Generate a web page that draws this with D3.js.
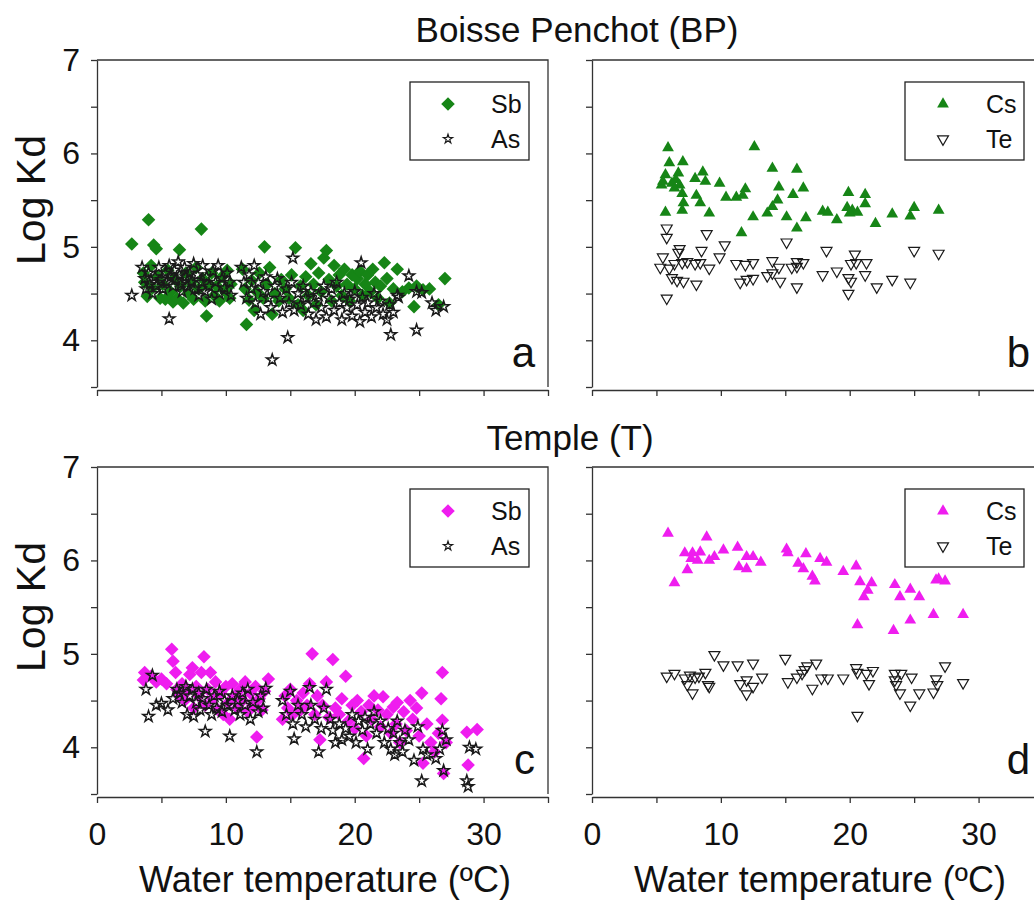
<!DOCTYPE html>
<html>
<head>
<meta charset="utf-8">
<script src="https://cdn.jsdelivr.net/npm/d3@7"></script>
<style>
  body { margin: 0; background: #fff; }
  svg { display: block; font-family: "Liberation Sans", Arial, sans-serif; }
</style>
</head>
<body>
<svg id="chart" width="1034" height="900"></svg>
<script>
// [water temperature (ºC), log Kd]
const bpSb = [
  [2.7,5.03],[3.6,4.72],[3.7,4.62],[3.9,4.47],[4.0,5.29],[4.2,4.80],[4.3,4.56],[4.4,5.02],[4.6,4.98],[4.7,4.68],
  [4.9,4.45],[5.1,4.60],[5.3,4.44],[5.5,4.75],[5.7,4.52],[5.9,4.41],[6.0,4.66],[6.2,4.45],[6.4,4.97],[6.5,4.58],
  [6.7,4.40],[6.9,4.72],[7.1,4.50],[7.3,4.62],[7.5,4.44],[7.7,4.78],[7.9,4.55],[8.1,5.19],[8.2,4.66],[8.4,4.42],
  [8.5,4.26],[8.7,4.60],[8.9,4.72],[9.1,4.48],[9.3,4.58],[9.5,4.42],[9.7,4.68],[9.9,4.53],[10.1,4.75],[10.3,4.45],
  [10.4,4.60],[11.3,4.76],[11.5,4.55],[11.6,4.17],[11.8,4.43],[12.0,4.64],[12.2,4.32],[12.4,4.52],[12.6,4.72],[12.9,4.45],
  [13.0,5.00],[13.2,4.60],[13.4,4.78],[13.6,4.28],[13.8,4.50],[14.1,4.42],[14.3,4.65],[14.6,4.55],[14.9,4.45],[15.1,4.70],
  [15.4,4.99],[15.6,4.38],[15.8,4.58],[16.0,4.32],[16.2,4.68],[16.4,4.48],[16.6,4.82],[16.8,4.60],[17.0,4.38],[17.2,4.72],
  [17.4,4.52],[17.6,4.88],[17.8,4.96],[18.0,4.65],[18.2,4.42],[18.4,4.80],[18.6,4.58],[18.8,4.70],[19.0,4.48],[19.2,4.76],
  [19.4,4.60],[19.6,4.42],[19.8,4.70],[20.0,4.55],[20.2,4.66],[20.4,4.74],[20.6,4.48],[20.8,4.60],[21.0,4.70],[21.2,4.52],
  [21.4,4.76],[21.6,4.62],[21.8,4.45],[22.0,4.58],[22.3,4.83],[22.5,4.66],[22.7,4.40],[23.0,4.55],[23.3,4.76],[23.7,4.52],
  [24.2,4.56],[24.6,4.36],[24.8,4.58],[25.3,4.54],[25.8,4.55],[26.5,4.38],[27.0,4.66]
];
const bpAs = [
  [2.7,4.48],[5.6,4.23],[13.6,3.79],[14.8,4.03],[15.2,4.88],[20.5,4.83],[24.2,4.69],[24.8,4.11],[22.8,4.06],[26.0,4.40],
  [26.9,4.36],[23.4,4.46],[25.2,4.51],
  [3.5,4.78],[3.7,4.66],[3.8,4.55],[4.0,4.72],[4.1,4.60],[4.3,4.50],[4.5,4.68],[4.6,4.58],[4.8,4.78],[5.0,4.65],
  [5.1,4.55],[5.3,4.72],[5.4,4.62],[5.6,4.80],[5.7,4.68],[5.9,4.58],[6.0,4.75],[6.1,4.65],[6.3,4.84],[6.4,4.70],
  [6.5,4.60],[6.6,4.52],[6.8,4.78],[6.9,4.68],[7.0,4.58],[7.2,4.72],[7.3,4.62],[7.5,4.82],[7.6,4.55],[7.8,4.70],
  [7.9,4.48],[8.1,4.62],[8.2,4.80],[8.4,4.52],[8.5,4.68],[8.7,4.58],[8.9,4.44],[9.0,4.74],[9.2,4.62],[9.4,4.80],
  [9.5,4.50],[9.7,4.66],[9.9,4.56],[10.1,4.72],[10.3,4.62],[10.4,4.48],
  [11.2,4.78],[11.4,4.62],[11.6,4.45],[11.8,4.70],[12.0,4.55],[12.2,4.80],[12.3,4.40],[12.5,4.62],[12.7,4.28],[12.9,4.52],
  [13.1,4.68],[13.3,4.45],[13.5,4.35],[13.8,4.58],[14.0,4.66],[14.2,4.45],[14.4,4.30],[14.7,4.55],[14.9,4.40],[15.1,4.62],
  [15.3,4.32],[15.6,4.50],[15.8,4.38],[16.0,4.58],[16.2,4.45],[16.4,4.28],[16.6,4.52],[16.8,4.40],[17.0,4.22],[17.2,4.48],
  [17.4,4.35],[17.6,4.58],[17.8,4.25],[18.0,4.45],[18.2,4.55],[18.4,4.32],[18.6,4.62],[18.8,4.40],[19.0,4.22],[19.2,4.50],
  [19.4,4.35],[19.6,4.44],[19.8,4.26],[20.0,4.52],[20.2,4.38],[20.4,4.20],[20.6,4.46],[20.8,4.30],[21.0,4.40],[21.3,4.25],
  [21.5,4.50],[21.7,4.35],[22.0,4.42],[22.2,4.28],[22.5,4.22],[22.7,4.38],[23.0,4.30],[23.3,4.48],[24.8,4.52],[26.3,4.32]
];
const bpCs = [
  [5.9,6.06],[12.6,6.07],[6.0,5.90],[7.05,5.91],[5.7,5.77],[6.7,5.79],[5.4,5.66],[6.2,5.68],[6.8,5.66],[6.4,5.63],
  [7.0,5.57],[8.0,5.73],[8.6,5.80],[8.8,5.70],[9.9,5.68],[8.1,5.55],[8.4,5.47],[5.7,5.37],[7.0,5.39],[7.1,5.47],
  [9.1,5.36],[10.4,5.53],[11.2,5.53],[11.9,5.62],[11.7,5.55],[14.0,5.84],[15.9,5.83],[14.5,5.64],[16.4,5.63],[15.6,5.56],
  [14.4,5.50],[14.0,5.43],[13.6,5.36],[12.5,5.32],[11.6,5.15],[15.1,5.32],[16.6,5.31],[15.9,5.20],[17.9,5.38],[18.3,5.37],
  [19.0,5.29],[19.9,5.58],[21.2,5.56],[19.8,5.42],[20.2,5.39],[20.6,5.37],[20.0,5.36],[21.2,5.46],[22.0,5.25],[23.3,5.35],
  [24.7,5.33],[25.0,5.42],[26.9,5.39],[5.5,5.70],[6.5,5.72]
];
const bpTe = [
  [5.8,5.20],[5.8,5.10],[8.9,5.14],[10.3,5.02],[15.1,5.05],[6.8,4.98],[6.7,4.94],[8.5,4.96],[5.5,4.89],[9.9,4.89],
  [18.2,4.96],[25.0,4.96],[26.9,4.93],[20.4,4.92],[5.3,4.78],[6.0,4.77],[6.4,4.82],[7.0,4.83],[7.4,4.84],[8.0,4.82],
  [8.4,4.83],[9.1,4.77],[6.2,4.67],[6.6,4.64],[7.1,4.63],[8.1,4.60],[11.2,4.82],[11.9,4.81],[12.5,4.83],[11.5,4.62],
  [12.0,4.65],[12.5,4.66],[13.6,4.69],[14.0,4.72],[14.0,4.85],[14.6,4.63],[14.5,4.78],[15.5,4.78],[15.9,4.79],[16.4,4.83],
  [15.9,4.84],[15.9,4.57],[17.9,4.70],[19.0,4.74],[20.1,4.82],[20.5,4.83],[21.3,4.83],[19.9,4.67],[20.1,4.63],[19.9,4.50],
  [21.2,4.70],[22.1,4.57],[23.3,4.65],[24.7,4.62],[5.8,4.45]
];
const tSb = [
  [3.6,4.72],[3.7,4.80],[4.2,4.76],[4.6,4.70],[5.0,4.73],[5.4,4.68],[5.8,5.05],[5.9,4.92],[6.1,4.80],[6.2,4.62],
  [6.4,4.55],[6.6,4.68],[6.8,4.50],[7.0,4.60],[7.2,4.78],[7.4,4.85],[7.5,4.42],[7.7,4.65],[7.9,4.55],[8.1,4.80],
  [8.3,4.97],[8.4,4.45],[8.6,4.62],[8.8,4.80],[9.0,4.52],[9.2,4.70],[9.4,4.40],[9.6,4.58],[9.8,4.35],[10.0,4.65],
  [10.2,4.48],[10.3,4.30],[10.5,4.68],[10.7,4.55],[10.9,4.42],[11.1,4.62],[11.3,4.50],[11.5,4.70],[11.7,4.38],[11.9,4.58],
  [12.1,4.45],[12.3,4.65],[12.4,4.11],[12.6,4.52],[12.8,4.40],[13.0,4.60],[13.3,4.73],
  [14.4,4.30],[14.6,4.55],[14.8,4.42],[15.0,4.62],[15.2,4.35],[15.5,4.50],[15.8,4.40],[16.0,4.58],[16.3,4.45],
  [16.5,4.68],[16.7,5.00],[16.9,4.35],[17.1,4.55],[17.3,4.08],[17.5,4.45],[17.8,4.70],[18.0,4.32],[18.3,4.94],[18.5,4.42],
  [18.8,4.35],[19.0,4.52],[19.3,4.76],[19.5,4.28],[19.8,4.45],[20.0,4.20],[20.2,4.50],[20.5,4.38],[20.7,3.88],[20.9,4.12],
  [21.1,4.45],[21.3,4.30],[21.5,4.55],[21.8,4.40],[22.0,4.22],[22.2,4.54],[22.5,4.35],[22.8,4.15],[23.0,4.43],[23.2,4.25],
  [23.3,4.48],[23.5,4.05],[23.8,4.38],[24.0,4.18],[24.3,4.50],[24.5,4.30],[24.8,4.42],[25.0,4.12],[25.2,4.58],[25.3,3.83],
  [25.6,4.25],[25.9,4.05],[26.2,3.95],[26.5,4.15],[26.7,4.52],[26.8,4.80],[26.8,4.29],[26.9,3.72],[27.1,4.05],[28.7,4.16],
  [28.8,3.81],[29.5,4.19]
];
const tAs = [
  [3.8,4.62],[4.0,4.33],[4.3,4.77],[4.6,4.45],[5.0,4.47],[5.5,4.40],[5.9,4.52],[6.2,4.62],[6.4,4.58],[6.6,4.48],
  [6.9,4.65],[7.0,4.35],[7.2,4.55],[7.4,4.62],[7.5,4.33],[7.7,4.48],[7.9,4.58],[8.0,4.40],[8.2,4.52],[8.4,4.17],
  [8.5,4.62],[8.7,4.45],[8.9,4.35],[9.1,4.55],[9.3,4.42],[9.5,4.60],[9.7,4.38],[9.9,4.50],[10.1,4.45],[10.3,4.12],
  [10.5,4.55],[10.7,4.40],[10.9,4.50],[11.1,4.35],[11.3,4.58],[11.5,4.45],[11.7,4.62],[11.9,4.30],[12.1,4.48],[12.4,3.95],
  [12.5,4.38],[12.7,4.55],[12.9,4.42],[13.1,4.63],
  [14.4,4.50],[14.7,4.35],[15.0,4.60],[15.2,4.25],[15.3,4.09],[15.6,4.45],[15.9,4.35],[16.2,4.22],[16.5,4.64],[16.6,4.45],
  [16.9,4.30],[17.2,3.95],[17.4,4.20],[17.6,4.42],[17.8,4.62],[18.1,4.30],[18.3,4.18],[18.5,4.05],[18.8,4.25],[19.0,4.08],
  [19.3,4.20],[19.6,4.12],[19.8,4.35],[20.1,4.05],[20.3,4.28],[20.6,4.18],[20.8,4.32],[21.0,3.98],[21.2,4.25],[21.5,4.38],
  [21.7,4.15],[22.0,4.28],[22.3,4.05],[22.6,4.20],[22.8,3.98],[23.0,4.15],[23.1,3.92],[23.3,4.28],[23.5,4.05],[23.7,3.95],
  [23.9,4.18],[24.2,4.08],[24.6,3.86],[24.9,4.22],[25.2,3.64],[25.3,3.98],[25.6,3.92],[26.3,3.88],[26.6,3.98],[26.8,4.18],
  [26.9,3.75],[27.1,4.08],[28.7,3.64],[28.8,3.58],[28.9,4.00],[29.4,3.98]
];
const tCs = [
  [5.9,6.29],[8.9,6.25],[7.2,6.08],[7.8,6.08],[8.4,6.09],[7.7,6.02],[8.2,6.00],[9.1,6.00],[9.5,6.04],[10.2,6.11],
  [7.4,5.90],[6.4,5.76],[11.3,6.14],[12.0,6.04],[12.5,6.04],[13.1,5.98],[11.4,5.93],[12.0,5.91],[15.1,6.12],[15.2,6.08],
  [16.6,6.07],[17.7,6.02],[18.2,5.98],[16.0,5.97],[16.4,5.91],[17.1,5.83],[17.3,5.78],[19.5,5.88],[20.5,5.94],[20.8,5.77],
  [21.7,5.76],[21.4,5.68],[21.1,5.61],[23.5,5.74],[23.9,5.61],[24.7,5.69],[25.4,5.61],[26.7,5.79],[27.4,5.78],[26.9,5.80],
  [20.6,5.31],[23.4,5.25],[24.7,5.36],[26.5,5.42],[28.8,5.42]
];
const tTe = [
  [9.5,4.99],[15.0,4.95],[10.2,4.88],[11.3,4.88],[12.5,4.90],[13.2,4.75],[17.4,4.90],[16.7,4.87],[16.5,4.83],[16.3,4.79],
  [15.9,4.75],[15.2,4.70],[17.1,4.63],[17.8,4.74],[18.3,4.74],[19.5,4.74],[20.5,4.85],[20.6,4.80],[21.3,4.79],[21.8,4.82],
  [21.5,4.68],[20.6,4.34],[23.5,4.79],[24.0,4.79],[24.8,4.75],[23.5,4.72],[23.6,4.67],[23.9,4.58],[25.4,4.58],[24.7,4.45],
  [26.7,4.73],[26.8,4.67],[26.5,4.59],[27.4,4.87],[5.8,4.76],[6.4,4.79],[7.2,4.74],[7.6,4.77],[8.0,4.75],[8.3,4.76],
  [8.8,4.80],[7.4,4.67],[7.8,4.58],[9.0,4.67],[9.1,4.65],[11.5,4.68],[12.0,4.72],[12.5,4.65],[12.0,4.57],[28.8,4.69]
];
const xTicks = [0, 5, 10, 15, 20, 25, 30, 35];
const yTicks = [3.5, 4, 4.5, 5, 5.5, 6, 6.5, 7];

const green = "#168516", magenta = "#ef1def", ink = "#1a1a1a";
const svg = d3.select("#chart");
const pw = 451, ph = 327;

const shapes = {
  diamond: { path: d3.symbol().type(d3.symbolSquare).size(92)(), rot: 45, fill: true },
  star:    { path: d3.symbol().type(d3.symbolStar).size(40)(), rot: 0, fill: false },
  up:      { path: d3.symbol().type(d3.symbolTriangle).size(60)(), rot: 0, fill: true },
  down:    { path: d3.symbol().type(d3.symbolTriangle).size(52)(), rot: 180, fill: false }
};

const panels = [
  { left: 97,  top: 60,  letter: "a", showX: false, series: [
      { name: "Sb", data: bpSb, shape: "diamond", color: green },
      { name: "As", data: bpAs, shape: "star", color: ink }] },
  { left: 592, top: 60,  letter: "b", showX: false, series: [
      { name: "Cs", data: bpCs, shape: "up", color: green },
      { name: "Te", data: bpTe, shape: "down", color: ink }] },
  { left: 97,  top: 467, letter: "c", showX: true, series: [
      { name: "Sb", data: tSb, shape: "diamond", color: magenta },
      { name: "As", data: tAs, shape: "star", color: ink }] },
  { left: 592, top: 467, letter: "d", showX: true, series: [
      { name: "Cs", data: tCs, shape: "up", color: magenta },
      { name: "Te", data: tTe, shape: "down", color: ink }] }
];

function mark(sel, shape, color, x, y) {
  const s = shapes[shape];
  sel.append("path")
    .attr("d", s.path)
    .attr("transform", "translate(" + x + "," + y + ") rotate(" + s.rot + ")")
    .attr("fill", s.fill ? color : "none")
    .attr("stroke", s.fill ? "none" : ink)
    .attr("stroke-width", shape === "star" ? 1.5 : 1.2);
}

panels.forEach(function(p) {
  const x = d3.scaleLinear().domain([0, 35]).range([p.left, p.left + pw]);
  const y = d3.scaleLinear().domain([3.5, 7]).range([p.top + ph, p.top]);
  const g = svg.append("g");

  // frame top and right
  g.append("path")
    .attr("d", "M" + p.left + "," + p.top + "H" + (p.left + pw) + "V" + (p.top + ph))
    .attr("fill", "none").attr("stroke", "#333").attr("stroke-width", 1.3);

  const yAxis = g.append("g")
    .attr("transform", "translate(" + p.left + ",0)")
    .call(d3.axisLeft(y).tickValues(yTicks).tickSize(6).tickSizeOuter(0).tickPadding(11)
      .tickFormat(function(d) { return (p.left < 300 && d % 1 === 0) ? d : ""; }));
  const xAxis = g.append("g")
    .attr("transform", "translate(0," + (p.top + ph + 3) + ")")
    .call(d3.axisBottom(x).tickValues(xTicks).tickSize(6).tickSizeOuter(0).tickPadding(19)
      .tickFormat(function(d) { return (p.showX && d % 10 === 0 && d < 35) ? d : ""; }));
  [yAxis, xAxis].forEach(function(a) {
    a.selectAll("path, line").attr("stroke", "#333").attr("stroke-width", 1.3);
    a.selectAll("text").attr("font-size", 32).attr("fill", "#111")
      .attr("font-family", "Liberation Sans, Arial, sans-serif");
  });

  p.series.forEach(function(s) {
    const layer = g.append("g");
    s.data.forEach(function(d) { mark(layer, s.shape, s.color, x(d[0]), y(d[1])); });
  });

  // legend
  const lx = p.left + 313, ly = p.top + 22;
  g.append("rect").attr("x", lx).attr("y", ly).attr("width", 119).attr("height", 78)
    .attr("fill", "#fff").attr("stroke", "#222").attr("stroke-width", 1.3);
  p.series.forEach(function(s, i) {
    const ry = ly + 22 + i * 35;
    if (s.shape === "star") {
      g.append("path").attr("d", d3.symbol().type(d3.symbolStar).size(26)())
        .attr("transform", "translate(" + (lx + 38) + "," + ry + ")")
        .attr("fill", "none").attr("stroke", ink).attr("stroke-width", 1.2);
    } else {
      mark(g, s.shape, s.color, lx + 38, ry);
    }
    g.append("text").attr("x", lx + 81).attr("y", ry).attr("dy", "0.36em")
      .attr("font-size", 25).attr("fill", "#111").text(s.name);
  });

  g.append("text").attr("x", p.left + 438).attr("y", p.top + 307)
    .attr("text-anchor", "end").attr("font-size", 42).attr("fill", "#111").text(p.letter);

  if (p.left < 300) {
    g.append("text")
      .attr("transform", "translate(45," + (p.top + 140) + ") rotate(-90)")
      .attr("text-anchor", "middle").attr("font-size", 41).attr("fill", "#111").text("Log Kd");
  }
  if (p.showX) {
    g.append("text").attr("x", p.left + 228).attr("y", 892)
      .attr("text-anchor", "middle").attr("font-size", 36).attr("fill", "#111")
      .text("Water temperature (ºC)");
  }
});

svg.append("text").attr("x", 577).attr("y", 42).attr("text-anchor", "middle")
  .attr("font-size", 35).attr("fill", "#111").text("Boisse Penchot (BP)");
svg.append("text").attr("x", 570).attr("y", 450).attr("text-anchor", "middle")
  .attr("font-size", 35).attr("fill", "#111").text("Temple (T)");
</script>
</body>
</html>
